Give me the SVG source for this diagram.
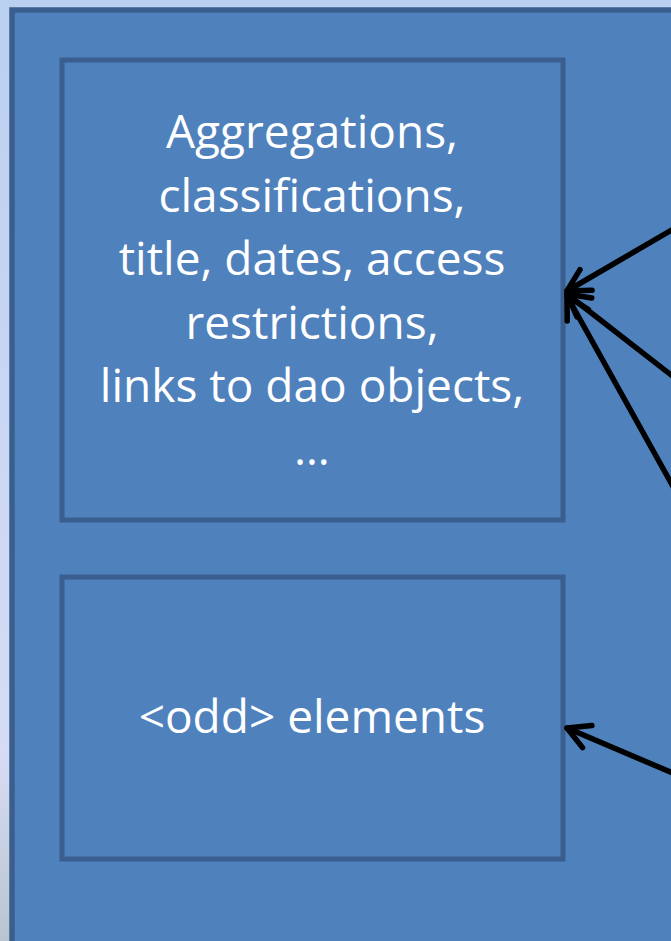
<svg xmlns="http://www.w3.org/2000/svg" width="671" height="941" viewBox="0 0 671 941">
  <defs>
    <linearGradient id="bg" x1="0" y1="0" x2="0" y2="1">
      <stop offset="0" stop-color="#BBCFF1"/>
      <stop offset="0.8" stop-color="#D6DCF5"/>
      <stop offset="1" stop-color="#BAC4D0"/>
    </linearGradient>
    <marker id="arr" viewBox="0 0 32 32" refX="28" refY="16" markerWidth="32" markerHeight="32" markerUnits="userSpaceOnUse" orient="auto">
      <path d="M6 4 L28 16 L6 28" fill="none" stroke="#000" stroke-width="5.5" stroke-linecap="round" stroke-linejoin="round"/>
    </marker>
    <style>
      .box { fill: #4F81BD; stroke: #3A5F8F; stroke-width: 5; }
      .lbl { font-family: "Open Sans", "Liberation Sans", sans-serif; font-size: 46px; fill: #FFFFFF; text-anchor: middle; }
      .conn { stroke: #000; stroke-width: 5.5; fill: none; stroke-linecap: round; marker-end: url(#arr); }
    </style>
  </defs>
  <rect x="0" y="0" width="671" height="941" fill="url(#bg)"/>
  <g id="container">
    <rect x="12" y="10" width="680" height="960" fill="#4F81BD" stroke="#3A5F8F" stroke-width="5.5"/>
  </g>
  <g id="node-aggregations">
    <rect class="box" x="62" y="60" width="501" height="460"/>
    <text class="lbl" x="312" y="148">Aggregations,</text>
    <text class="lbl" x="312" y="212">classifications,</text>
    <text class="lbl" x="312" y="275">title, dates, access</text>
    <text class="lbl" x="312" y="339">restrictions,</text>
    <text class="lbl" x="312" y="402">links to dao objects,</text>
    <text class="lbl" x="312" y="465">…</text>
  </g>
  <g id="node-odd">
    <rect class="box" x="62" y="577" width="501" height="282"/>
    <text class="lbl" x="312" y="733">&lt;odd&gt; elements</text>
  </g>
  <g id="connectors">
    <line class="conn" x1="675" y1="228" x2="567" y2="291"/>
    <line class="conn" x1="675" y1="378" x2="567" y2="294"/>
    <line class="conn" x1="675" y1="490" x2="567" y2="296"/>
    <line class="conn" x1="675" y1="774" x2="567" y2="728"/>
  </g>
</svg>
